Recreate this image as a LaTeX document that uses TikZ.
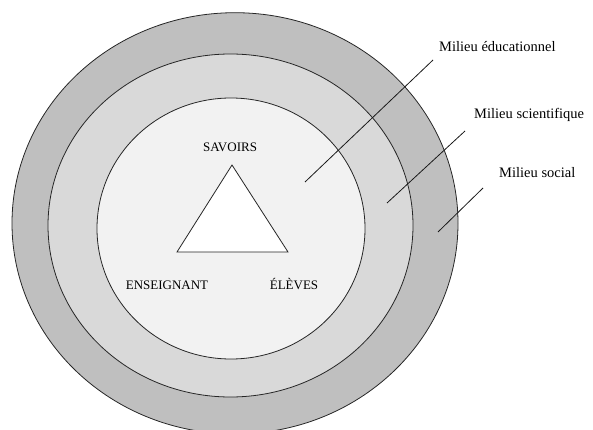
\documentclass[tikz,border=0pt]{standalone}
\usepackage{fontspec}
\setmainfont{Liberation Serif}
\usepackage{tikz}
\usetikzlibrary{calc}

\definecolor{social}{HTML}{BFBFBF}
\definecolor{scientifique}{HTML}{D9D9D9}
\definecolor{educ}{HTML}{F2F2F2}

\tikzset{
    ring/.style={draw=black!85, line width=0.8pt},
    lead/.style={draw=black!90, line width=0.8pt},
    inlabel/.style={anchor=base, inner sep=0pt, font=\fontsize{13}{15}\selectfont},
    outlabel/.style={anchor=base west, inner sep=0pt, font=\fontsize{14.5}{17}\selectfont}
}

\begin{document}
\begin{tikzpicture}[x=1pt, y=-1pt]
        \useasboundingbox (0,0) rectangle (593,430);
        \begin{scope}
            \clip (0,0) rectangle (593,430);
            \draw[ring, fill=social] (235,223.3) ellipse [x radius=223, y radius=210.6];
            \draw[ring, fill=scientifique] (230.5,225.5) ellipse [x radius=182.5, y radius=171.5];
            \draw[ring, fill=educ] (231,228.5) ellipse [x radius=134, y radius=130.5];
        \end{scope}
        \begin{scope}
            \coordinate (apex) at (232,165);
            \coordinate (left) at (177,252);
            \coordinate (right) at (288,252);
            \draw[ring, fill=white] (apex) -- (left) -- (right) -- cycle;
            \node[inlabel] (savoirs) at (230,152) {SAVOIRS};
            \node[inlabel] (enseignant) at (167,289) {ENSEIGNANT};
            \node[inlabel] (eleves) at (294,289) {ÉLÈVES};
        \end{scope}
        \begin{scope}
            \node[outlabel] (edu) at (439,52) {Milieu éducationnel};
            \node[outlabel] (sci) at (474,119) {Milieu scientifique};
            \node[outlabel] (soc) at (499,178) {Milieu social};
            \coordinate (edu-in) at (305,182);
            \coordinate (edu-out) at (433,60);
            \coordinate (sci-in) at (387,203);
            \coordinate (sci-out) at (465,131);
            \coordinate (soc-in) at (438,232);
            \coordinate (soc-out) at (483,188);
            \draw[lead] (edu-in) -- (edu-out);
            \draw[lead] (sci-in) -- (sci-out);
            \draw[lead] (soc-in) -- (soc-out);
        \end{scope}
    \end{tikzpicture}
\end{document}
